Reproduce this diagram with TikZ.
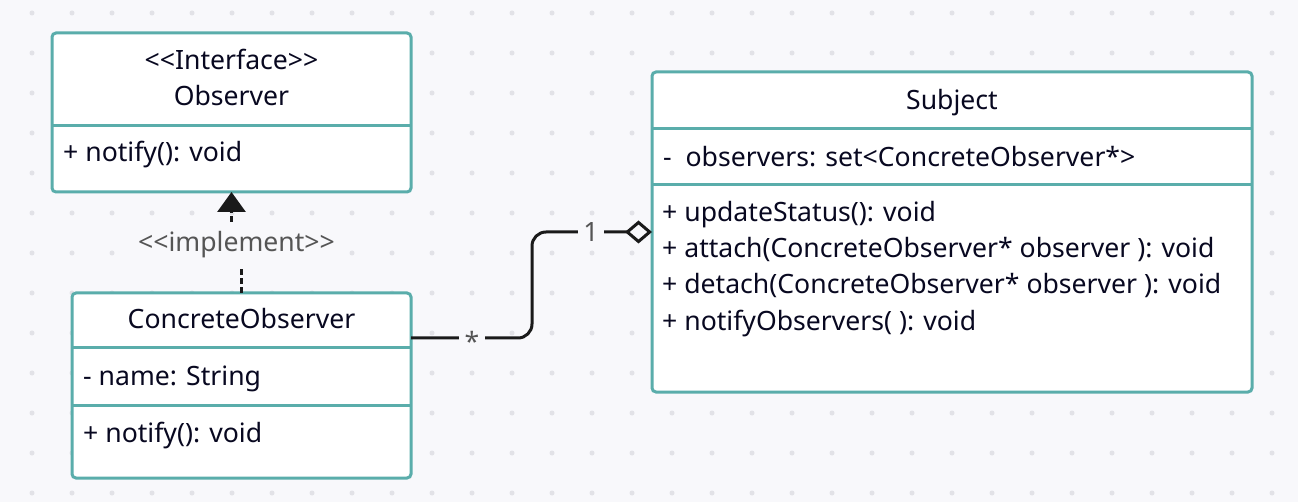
\documentclass[tikz,border=0pt]{standalone}
\usepackage{fontspec}
\setmainfont{Noto Sans}
\usetikzlibrary{arrows.meta}
\definecolor{bg}{HTML}{F8F8FB}
\definecolor{dotc}{HTML}{E2E2E7}
\definecolor{tealb}{HTML}{5AADAB}
\definecolor{ink}{HTML}{080820}
\definecolor{lbl}{HTML}{555555}
\definecolor{conn}{HTML}{1A1A1A}
\tikzset{
  umlbox/.style={draw=tealb, fill=white, line width=3pt, rounded corners=4pt, rectangle, inner sep=0pt, outer sep=0pt},
  divider/.style={draw=tealb, line width=3pt},
  txt/.style={font=\fontsize{26.6pt}{31pt}\selectfont, text=ink, inner sep=0pt},
  lbltxt/.style={font=\fontsize{26.6pt}{31pt}\selectfont, text=lbl, fill=bg, inner xsep=6pt, inner ysep=2pt},
  conline/.style={draw=conn, line width=3pt},
}
\begin{document}
\begin{tikzpicture}[x=1pt,y=-1pt]
\fill[bg] (0,0) rectangle (1298,502);
\useasboundingbox (0,0) rectangle (1298,502);
\foreach \x in {32,72,...,1292} {
  \foreach \y in {13,53,...,493} {
    \fill[dotc] (\x,\y) circle (2.5);
  }
}
% Observer
\node[umlbox, minimum width=359pt, minimum height=159pt, anchor=north west] (obs) at (52,33) {};
\draw[divider] (52,126) -- (411,126);
\node[txt, anchor=base] (obsst) at (231.5,70) {<{}<Interface>{}>};
\node[txt, anchor=base] (obsname) at (231.5,106) {Observer};
\node[txt, anchor=base west] (obsm) at (63,162) {+ notify(): void};
% ConcreteObserver
\node[umlbox, minimum width=339pt, minimum height=185pt, anchor=north west] (co) at (72,293) {};
\draw[divider] (72,348) -- (411,348);
\draw[divider] (72,405) -- (411,405);
\node[txt, anchor=base] (coname) at (241.5,329) {ConcreteObserver};
\node[txt, anchor=base west] (coattr) at (83,385) {- name: String};
\node[txt, anchor=base west] (com) at (83,442) {+ notify(): void};
% Subject
\node[umlbox, minimum width=600pt, minimum height=320pt, anchor=north west] (subj) at (652,72) {};
\draw[divider] (652,129) -- (1252,129);
\draw[divider] (652,185) -- (1252,185);
\node[txt, anchor=base] (subjname) at (952,110) {Subject};
\node[txt, anchor=base west] (subjattr) at (663,167) {-~~observers: set<ConcreteObserver*>};
\node[txt, anchor=base west] (sm1) at (662,222) {+ updateStatus(): void};
\node[txt, anchor=base west] (sm2) at (662,258) {+ attach(ConcreteObserver* observer ): void};
\node[txt, anchor=base west] (sm3) at (662,294) {+ detach(ConcreteObserver* observer ): void};
\node[txt, anchor=base west] (sm4) at (662,331) {+ notifyObservers( ): void};
% realization
\draw[conline, dash pattern=on 6pt off 3pt, -{Triangle[width=28pt 0,length=20pt 0]}]
  (co.north) -- ++(0,-50) -| (obs.south);
\node[lbltxt, anchor=base, inner ysep=9pt] (impl) at (236.5,252) {<{}<implement>{}>};
% association
\coordinate (assocA) at ([yshift=47.5pt]co.east);
\draw[conline, rounded corners=14pt, -{Diamond[open,length=27pt 0,width=23pt 0]}]
  (assocA) -- ++(121,0) |- (subj.west);
\node[lbltxt, anchor=base] (mstar) at (472,352) {*};
\node[lbltxt, anchor=base, inner xsep=5pt] (mone) at (591,242) {1};
\end{tikzpicture}
\end{document}
